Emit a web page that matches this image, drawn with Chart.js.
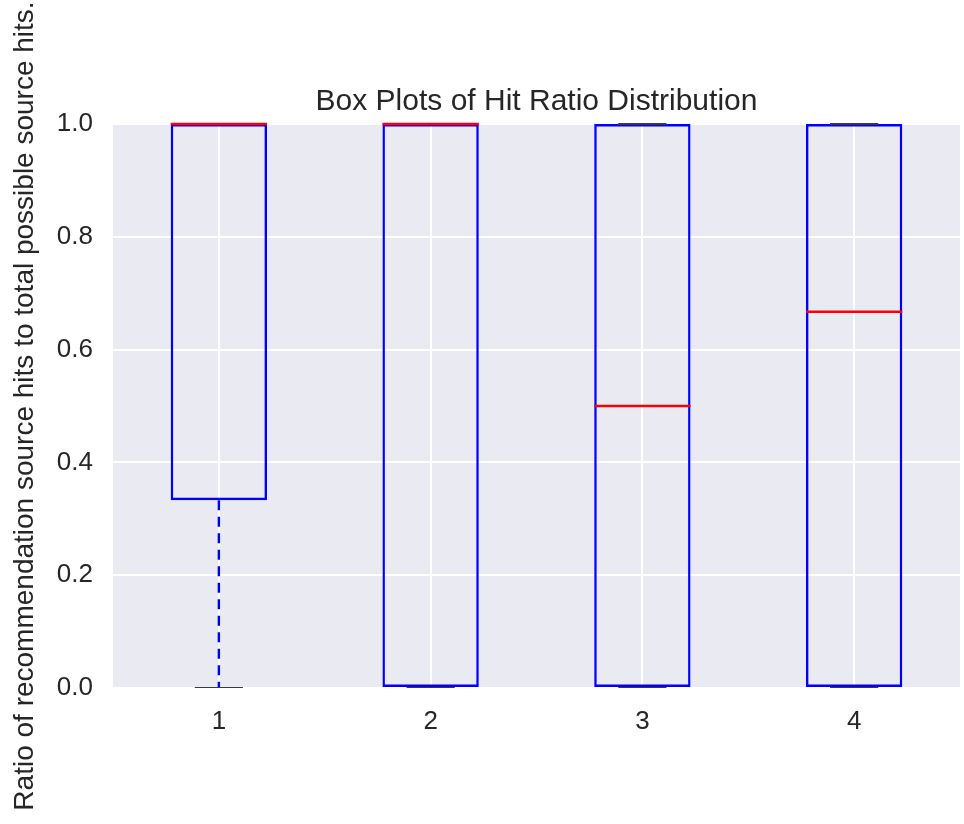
<!DOCTYPE html>
<html>
<head>
<meta charset="utf-8">
<style>
  html, body { margin: 0; padding: 0; background: #ffffff; }
  #wrap { width: 964px; height: 824px; }
</style>
<script src="https://cdn.jsdelivr.net/npm/chart.js@4/dist/chart.umd.min.js"></script>
</head>
<body>
<div id="wrap"><canvas id="c" width="964" height="824"></canvas></div>
<script>
// ---- data ----
const categories   = ['1', '2', '3', '4'];
const q1Values     = [0.333, 0, 0, 0];
const q3Values     = [1, 1, 1, 1];
const medianValues = [1, 1, 0.5, 0.667];
const whiskerLow   = [0, 0, 0, 0];
const whiskerHigh  = [1, 1, 1, 1];
const yTickValues  = [0, 0.2, 0.4, 0.6, 0.8, 1.0];

const FONT = "'Liberation Sans', Arial, sans-serif";
const TEXT = '#262626';
const BOX_COLOR = '#0000ff';
const MEDIAN_COLOR = '#ff0000';
const CAP_COLOR = '#3a3a3a';

const bgPlugin = {
  id: 'plotBg',
  beforeDraw(chart) {
    const {ctx, chartArea: a} = chart;
    ctx.save();
    ctx.fillStyle = '#EAEAF2';
    ctx.fillRect(a.left, a.top, a.right - a.left, a.bottom - a.top);
    ctx.restore();
  }
};

const boxParts = {
  id: 'boxParts',
  afterDatasetsDraw(chart) {
    const {ctx, chartArea: a} = chart;
    const xs = chart.scales.x, ys = chart.scales.y;
    const meta = chart.getDatasetMeta(0);
    ctx.save();
    ctx.beginPath();
    ctx.rect(a.left - 3, a.top - 3, a.right - a.left + 6, a.bottom - a.top + 3);
    ctx.clip();
    categories.forEach((c, i) => {
      const bar = meta.data[i];
      const w = bar.width;
      const cx = xs.getPixelForValue(i);
      // whiskers (dashed)
      ctx.strokeStyle = BOX_COLOR;
      ctx.lineWidth = 2.4;
      ctx.setLineDash([10, 6.5]);
      const yq1 = ys.getPixelForValue(q1Values[i]);
      const yq3 = ys.getPixelForValue(q3Values[i]);
      const ylo = ys.getPixelForValue(whiskerLow[i]);
      const yhi = ys.getPixelForValue(whiskerHigh[i]);
      if (Math.abs(yq1 - ylo) > 0.5) {
        ctx.beginPath(); ctx.moveTo(cx, yq1); ctx.lineTo(cx, ylo); ctx.stroke();
      }
      if (Math.abs(yq3 - yhi) > 0.5) {
        ctx.beginPath(); ctx.moveTo(cx, yq3); ctx.lineTo(cx, yhi); ctx.stroke();
      }
      ctx.setLineDash([]);
      // caps
      ctx.strokeStyle = CAP_COLOR;
      ctx.lineWidth = 2.2;
      [ylo, yhi].forEach(yy => {
        ctx.beginPath(); ctx.moveTo(cx - w / 4, yy); ctx.lineTo(cx + w / 4, yy); ctx.stroke();
      });
      // median
      const ym = ys.getPixelForValue(medianValues[i]);
      ctx.strokeStyle = MEDIAN_COLOR;
      ctx.lineWidth = 2.4;
      ctx.beginPath(); ctx.moveTo(cx - w / 2, ym); ctx.lineTo(cx + w / 2, ym); ctx.stroke();
    });
    ctx.restore();
  }
};

new Chart(document.getElementById('c'), {
  type: 'bar',
  data: {
    labels: categories,
    datasets: [{
      data: categories.map((c, i) => [q1Values[i], q3Values[i]]),
      backgroundColor: 'rgba(0,0,0,0)',
      borderColor: BOX_COLOR,
      borderWidth: 2.4,
      borderSkipped: false,
      barPercentage: 0.455,
      categoryPercentage: 1.0,
      clip: {left: 3, top: 3, right: 3, bottom: -1}
    }]
  },
  options: {
    responsive: false,
    animation: false,
    devicePixelRatio: 1,
    layout: { padding: { left: 0, right: 4, top: 0, bottom: 0 } },
    plugins: {
      legend: { display: false },
      tooltip: { enabled: false },
      title: {
        display: true,
        text: 'Box Plots of Hit Ratio Distribution',
        fullSize: false,
        color: TEXT,
        font: { family: FONT, size: 30, weight: 'normal', lineHeight: 1.2 },
        padding: { top: 84, bottom: 4 }
      }
    },
    scales: {
      x: {
        type: 'category',
        grid: { color: '#ffffff', lineWidth: 2, offset: false, drawTicks: false },
        border: { display: false },
        ticks: { color: TEXT, font: { family: FONT, size: 26 }, padding: 18 },
        afterFit(scale) { scale.height = 136; }
      },
      y: {
        min: 0,
        max: 1,
        afterBuildTicks(scale) { scale.ticks = yTickValues.map(v => ({ value: v })); },
        grid: { color: '#ffffff', lineWidth: 2, drawTicks: false },
        border: { display: false },
        ticks: {
          color: TEXT,
          font: { family: FONT, size: 26 },
          padding: 20,
          callback: v => Number(v).toFixed(1)
        },
        title: {
          display: true,
          text: 'Ratio of recommendation source hits to total possible source hits.',
          color: TEXT,
          font: { family: FONT, size: 28, lineHeight: 1.2 },
          padding: { top: 8, bottom: 0 }
        },
        afterFit(scale) { scale.width = 113; }
      }
    }
  },
  plugins: [bgPlugin, boxParts]
});
</script>
</body>
</html>
